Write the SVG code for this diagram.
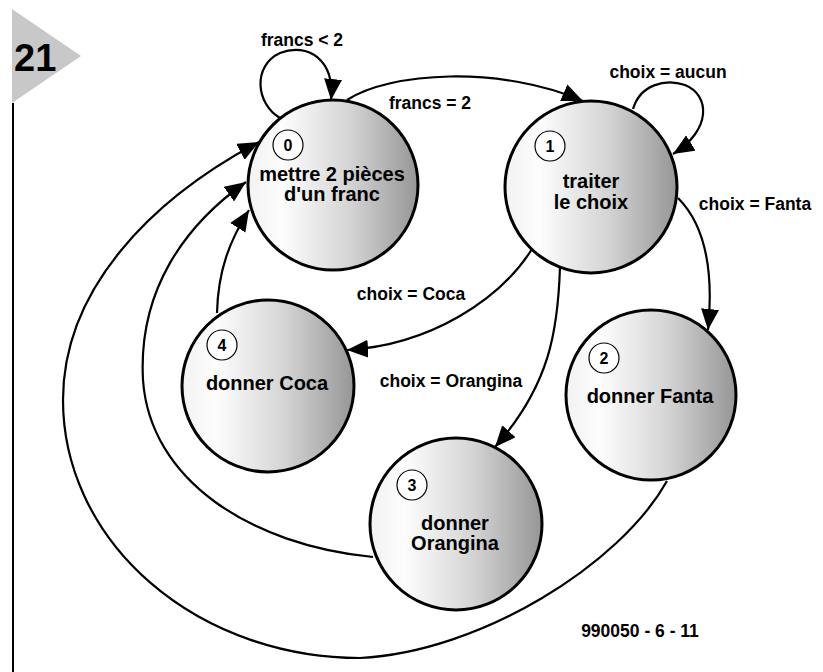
<svg xmlns="http://www.w3.org/2000/svg" width="823" height="672" viewBox="0 0 823 672">
<defs>
<linearGradient id="g" x1="0" y1="0" x2="1" y2="0">
<stop offset="0" stop-color="#f2f2f2"/>
<stop offset="0.2" stop-color="#fdfdfd"/>
<stop offset="0.6" stop-color="#d4d4d4"/>
<stop offset="1" stop-color="#969696"/>
</linearGradient>
<marker id="ah" markerUnits="userSpaceOnUse" markerWidth="24" markerHeight="20" refX="21" refY="9" orient="auto">
<path d="M0,0 L21,9 L0,18 z" fill="#000"/>
</marker>
<style>
.n{fill:url(#g);stroke:#000;stroke-width:3}
.s{fill:#fff;stroke:#000;stroke-width:1.2}
.e{fill:none;stroke:#000;stroke-width:2.2;marker-end:url(#ah)}
text{font-family:"Liberation Sans",Arial,sans-serif;font-weight:bold;fill:#000}
.t{font-size:20px;text-anchor:middle}
.k{font-size:16px;text-anchor:middle}
.l{font-size:17.5px;text-anchor:middle}
</style>
</defs>
<g id="badge">
<polygon points="12,9 81,56 12,103" fill="#c8c8c8"/>
<line x1="13" y1="103" x2="13" y2="672" stroke="#000" stroke-width="2"/>
<text x="14" y="71" font-size="38">21</text>
</g>
<g id="connectors">
<path class="e" d="M280,118 C256,104 252,66 280,53 C308,42 335,60 331,100"/>
<path class="e" d="M347,100 C390,72 500,65 583,101"/>
<path class="e" d="M633,109 C640,85 665,78 685,85 C710,95 712,130 673,154"/>
<path class="e" d="M678,198 C705,225 714,270 708,330"/>
<path class="e" d="M532,249 C500,300 430,345 347,350"/>
<path class="e" d="M560,267 C558,330 550,385 495,447"/>
<path class="e" d="M217,313 C218,270 230,240 249,210"/>
<path class="e" d="M373,557 C250,545 150,480 143,380 C138,290 185,225 246,182"/>
<path class="e" d="M667,481 C620,565 480,652 360,658 A297,258 0 0 1 63,400 C63,290 150,200 259,142"/>
</g>
<g id="labels">
<text class="l" x="302" y="46">francs &lt; 2</text>
<text class="l" x="430" y="109">francs = 2</text>
<text class="l" x="668" y="78">choix = aucun</text>
<text class="l" x="755" y="210">choix = Fanta</text>
<text class="l" x="411" y="300">choix = Coca</text>
<text class="l" x="451" y="387">choix = Orangina</text>
<text class="l" x="640" y="637">990050 - 6 - 11</text>
</g>
<g id="node0">
<circle class="n" cx="333" cy="185" r="85"/>
<circle class="s" cx="288" cy="145" r="15"/>
<text class="k" x="288" y="151">0</text>
<text class="t" x="332" y="181">mettre 2 pièces</text>
<text class="t" x="332" y="201">d'un franc</text>
</g>
<g id="node1">
<circle class="n" cx="591" cy="187" r="86"/>
<circle class="s" cx="550" cy="146" r="15"/>
<text class="k" x="550" y="152">1</text>
<text class="t" x="591" y="188">traiter</text>
<text class="t" x="591" y="209">le choix</text>
</g>
<g id="node2">
<circle class="n" cx="651" cy="395" r="85"/>
<circle class="s" cx="604" cy="358" r="15"/>
<text class="k" x="604" y="364">2</text>
<text class="t" x="650" y="403">donner Fanta</text>
</g>
<g id="node3">
<circle class="n" cx="456" cy="524" r="86"/>
<circle class="s" cx="412" cy="485" r="15"/>
<text class="k" x="412" y="491">3</text>
<text class="t" x="455" y="530">donner</text>
<text class="t" x="455" y="550">Orangina</text>
</g>
<g id="node4">
<circle class="n" cx="268" cy="386" r="86"/>
<circle class="s" cx="222" cy="345" r="15"/>
<text class="k" x="222" y="351">4</text>
<text class="t" x="267" y="390">donner Coca</text>
</g>
</svg>
